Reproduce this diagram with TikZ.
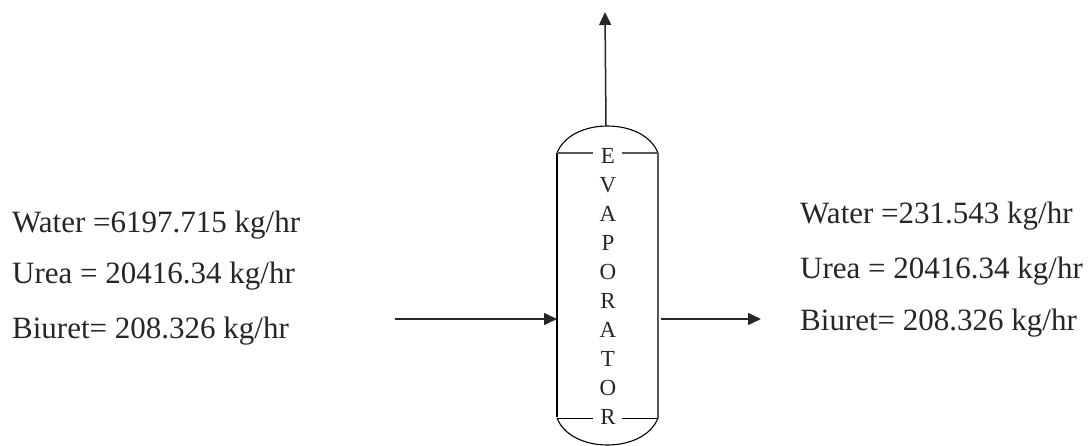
\documentclass[tikz,border=0pt]{standalone}
\usepackage{fontspec}
\setmainfont{Liberation Serif}
\usetikzlibrary{arrows.meta,positioning}
\definecolor{inkgrey}{HTML}{555555}
\begin{document}
\begin{tikzpicture}[x=1pt,y=-1pt,
    flow/.style={draw=black!85,line width=1.5pt,-{Stealth[length=13pt,width=12pt,inset=0pt]}},
    vessel/.style={draw=black,line width=1.1pt},
    lbl/.style={anchor=base west,inner sep=0pt,text=black!85,font=\fontsize{31}{34}\selectfont},
    letter/.style={inner sep=0pt,text=black!85,font=\fontsize{23}{26}\selectfont}]
  \useasboundingbox (0,0) rectangle (1088,445);
  % evaporator body
  \draw[vessel,line width=2pt] (557,153) -- (557,417);
  \draw[vessel,draw=inkgrey,line width=1.5pt] (658,153) -- (658,418);
  \draw[vessel] (557,153) .. controls (571,117) and (644,117) .. (658,153);
  \draw[vessel] (557,418) .. controls (571,454) and (644,454) .. (658,418);
  \draw[vessel,draw=inkgrey,line width=1.5pt] (557,153) -- (593,153);
  \draw[vessel,draw=inkgrey,line width=1.5pt] (622,153) -- (658,153);
  \draw[vessel,line width=0.9pt] (557,418) -- (593,418);
  \draw[vessel,line width=0.9pt] (622,418) -- (658,418);
  % letters
  \foreach \ch/\yy [count=\i] in {E/156,V/185,A/214,P/243,O/272,R/301,A/330,T/359,O/388,R/417} {
    \node[letter] (l\i) at (608,\yy) {\ch};
  }
  % streams
  \coordinate (feed) at (395,319);
  \coordinate (feedend) at (557,319);
  \coordinate (prodstart) at (661,319);
  \coordinate (prod) at (761,319);
  \coordinate (topstart) at (606,126);
  \coordinate (top) at (605,12);
  \draw[flow] (feed) -- (feedend);
  \draw[flow] (prodstart) -- (prod);
  \draw[flow] (topstart) -- (top);
  % left stream
  \node[lbl] (w1) at (12,232) {Water =6197.715 kg/hr};
  \node[lbl] (u1) at (12,283) {Urea = 20416.34 kg/hr};
  \node[lbl] (b1) at (12,338) {Biuret= 208.326 kg/hr};
  % right stream
  \node[lbl] (w2) at (800,223) {Water =231.543 kg/hr};
  \node[lbl] (u2) at (800,278) {Urea = 20416.34 kg/hr};
  \node[lbl] (b2) at (800,330) {Biuret= 208.326 kg/hr};
\end{tikzpicture}
\end{document}
